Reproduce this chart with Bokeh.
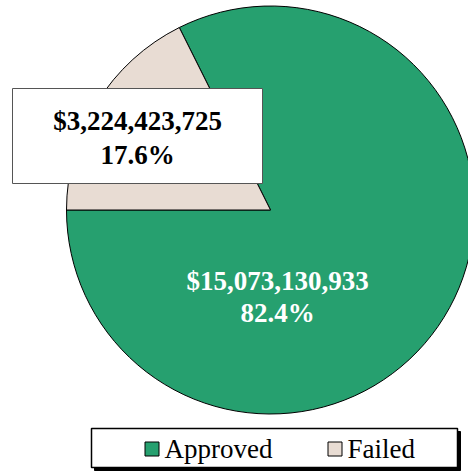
import math
from bokeh.plotting import figure
from bokeh.models import Range1d, ColumnDataSource
from bokeh.core.properties import value
from bokeh.embed import file_html
from bokeh.resources import INLINE

categories = ["Approved", "Failed"]
amounts = [15073130933, 3224423725]
colors = ["#26A06F", "#E8DCD3"]

W, H = 468, 472
total = sum(amounts)
fracs = [a / total for a in amounts]

# wedges start at 9 o'clock and go anticlockwise
starts, ends = [], []
ang = math.pi
for f in fracs:
    starts.append(ang)
    ang += f * 2 * math.pi
    ends.append(ang)

labels_amt = ["${:,}".format(a) for a in amounts]
labels_pct = ["{:.1f}%".format(f * 100) for f in fracs]

p = figure(width=W, height=H, x_range=Range1d(0, W), y_range=Range1d(0, H),
           output_backend="svg", toolbar_location=None,
           x_axis_location=None, y_axis_location=None, min_border=0,
           outline_line_color=None)
p.grid.visible = False

cx, cy, r = 270, H - 209.5, 204
src = ColumnDataSource(dict(cat=categories, start=starts, end=ends, color=colors))
wr = p.wedge(x=cx, y=cy, radius=r, start_angle="start", end_angle="end",
             fill_color="color", line_color="black", line_width=1, source=src)

# Failed label box
p.quad(left=12, right=262, top=H - 88, bottom=H - 183, fill_color="white",
       line_color="#555555", line_width=1)
p.text(x=[137, 137], y=[H - 120, H - 154], text=[labels_amt[1], labels_pct[1]],
       text_align="center", text_baseline="middle",
       text_font=value("Liberation Serif"), text_font_style="bold",
       text_font_size="27px", text_color="black")
# Approved label
p.text(x=[277, 277], y=[H - 280, H - 312], text=[labels_amt[0], labels_pct[0]],
       text_align="center", text_baseline="middle",
       text_font=value("Liberation Serif"), text_font_style="bold",
       text_font_size="27px", text_color="white")

# Legend frame with shadow
p.quad(left=94, right=460, top=H - 431, bottom=H - 470, fill_color="black", line_color="black")
p.quad(left=91, right=457, top=H - 428, bottom=H - 467, fill_color="white",
       line_color="black", line_width=1.5)
leg_x = [151.5, 334.5]
p.rect(x=leg_x, y=[H - 448.5] * 2, width=14, height=14, fill_color=colors,
       line_color="black", line_width=1)
p.text(x=[x + 12.5 for x in leg_x], y=[H - 448] * 2, text=categories,
       text_align="left", text_baseline="middle",
       text_font=value("Liberation Serif"), text_font_size="27px",
       text_color="black")

open("out.html", "w").write(file_html(p, INLINE))
